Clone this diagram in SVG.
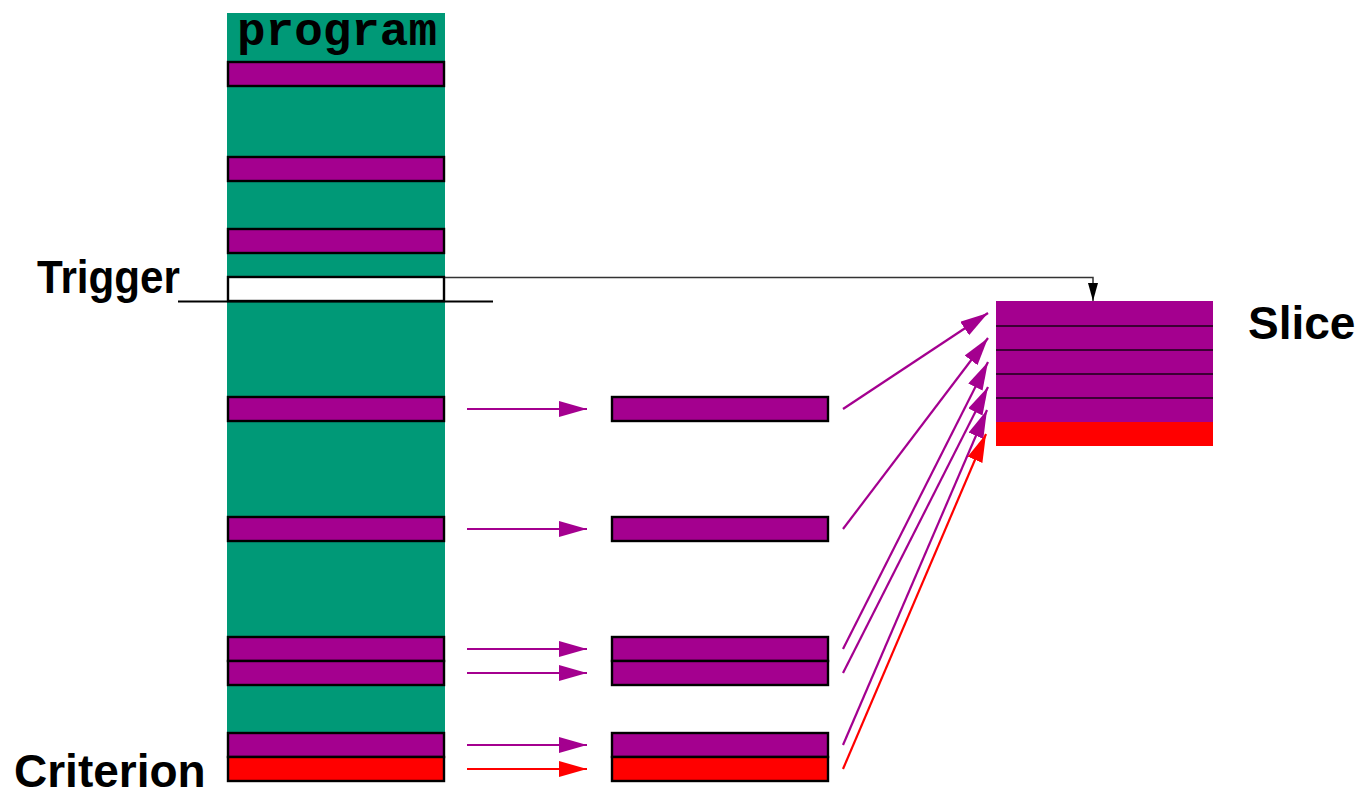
<svg xmlns="http://www.w3.org/2000/svg" width="1359" height="798" viewBox="0 0 1359 798">
  <style>
    .stmt { fill: #a4008f; stroke: #000; stroke-width: 2.4; }
    .crit { fill: #ff0000; stroke: #000; stroke-width: 2.4; }
    .trig { fill: #fff; stroke: #000; stroke-width: 2.4; }
    .flow { stroke: #a4008f; stroke-width: 2.2; fill: none; marker-end: url(#headP); }
    .flowR { stroke: #ff0000; stroke-width: 2.2; fill: none; marker-end: url(#headR); }
    .label { font-family: "Liberation Sans", Arial, sans-serif; font-weight: bold; font-size: 46px; fill: #000; }
    .code { font-family: "Liberation Mono", "Courier New", monospace; font-weight: bold; font-size: 46px; fill: #000; }
  </style>
  <defs>
    <marker id="headP" markerUnits="userSpaceOnUse" markerWidth="30" markerHeight="18" refX="28" refY="8" orient="auto">
      <path d="M0,0 L28,8 L0,16 Z" fill="#a4008f"/>
    </marker>
    <marker id="headR" markerUnits="userSpaceOnUse" markerWidth="30" markerHeight="18" refX="28" refY="8" orient="auto">
      <path d="M0,0 L28,8 L0,16 Z" fill="#ff0000"/>
    </marker>
    <marker id="headK" markerUnits="userSpaceOnUse" markerWidth="20" markerHeight="12" refX="18" refY="5" orient="auto">
      <path d="M0,0 L18,5 L0,10 Z" fill="#000"/>
    </marker>
  </defs>

  <!-- program column -->
  <g id="program">
    <rect x="227" y="13" width="218" height="768" fill="#009977"/>
    <text class="code" x="237" y="45" textLength="200" lengthAdjust="spacingAndGlyphs">program</text>
    <rect class="stmt" x="228" y="62" width="216" height="24"/>
    <rect class="stmt" x="228" y="157" width="216" height="24"/>
    <rect class="stmt" x="228" y="229" width="216" height="24"/>
    <rect class="trig" x="228" y="277" width="216" height="24"/>
    <rect class="stmt" x="228" y="397" width="216" height="24"/>
    <rect class="stmt" x="228" y="517" width="216" height="24"/>
    <rect class="stmt" x="228" y="637" width="216" height="24"/>
    <rect class="stmt" x="228" y="661" width="216" height="24"/>
    <rect class="stmt" x="228" y="733" width="216" height="24"/>
    <rect class="crit" x="228" y="757" width="216" height="24"/>
  </g>

  <!-- selected statements -->
  <g id="selected">
    <rect class="stmt" x="612" y="397" width="216" height="24"/>
    <rect class="stmt" x="612" y="517" width="216" height="24"/>
    <rect class="stmt" x="612" y="637" width="216" height="24"/>
    <rect class="stmt" x="612" y="661" width="216" height="24"/>
    <rect class="stmt" x="612" y="733" width="216" height="24"/>
    <rect class="crit" x="612" y="757" width="216" height="24"/>
  </g>

  <!-- slice -->
  <g id="slice">
    <rect x="996" y="301" width="217" height="122" fill="#a4008f"/>
    <rect x="996" y="422" width="217" height="24" fill="#ff0000"/>
    <g stroke="#1a0016" stroke-width="1.5">
      <line x1="996" y1="326" x2="1213" y2="326"/>
      <line x1="996" y1="350" x2="1213" y2="350"/>
      <line x1="996" y1="374" x2="1213" y2="374"/>
      <line x1="996" y1="398" x2="1213" y2="398"/>
    </g>
  </g>

  <!-- labels -->
  <g id="trigger">
    <text class="label" x="37" y="293" textLength="143" lengthAdjust="spacingAndGlyphs">Trigger</text>
    <line x1="178" y1="301.5" x2="493" y2="301.5" stroke="#000" stroke-width="2"/>
  </g>
  <g id="slice-label">
    <text class="label" x="1248" y="339">Slice</text>
  </g>
  <g id="criterion">
    <text class="label" x="14" y="787">Criterion</text>
  </g>

  <!-- connectors -->
  <g id="connectors">
    <polyline points="445,277.5 1093,277.5 1093,301" fill="none" stroke="#333" stroke-width="1.5" marker-end="url(#headK)"/>

    <line class="flow" x1="467" y1="409" x2="587" y2="409"/>
    <line class="flow" x1="467" y1="529" x2="587" y2="529"/>
    <line class="flow" x1="467" y1="649" x2="587" y2="649"/>
    <line class="flow" x1="467" y1="673" x2="587" y2="673"/>
    <line class="flow" x1="467" y1="745" x2="587" y2="745"/>
    <line class="flowR" x1="467" y1="769" x2="587" y2="769"/>

    <line class="flow" x1="843" y1="409" x2="988" y2="313"/>
    <line class="flow" x1="843" y1="529" x2="988" y2="338"/>
    <line class="flow" x1="843" y1="649" x2="988" y2="362"/>
    <line class="flow" x1="843" y1="673" x2="988" y2="387"/>
    <line class="flow" x1="843" y1="745" x2="987" y2="410"/>
    <line class="flowR" x1="843" y1="769" x2="986" y2="434"/>
  </g>
</svg>
